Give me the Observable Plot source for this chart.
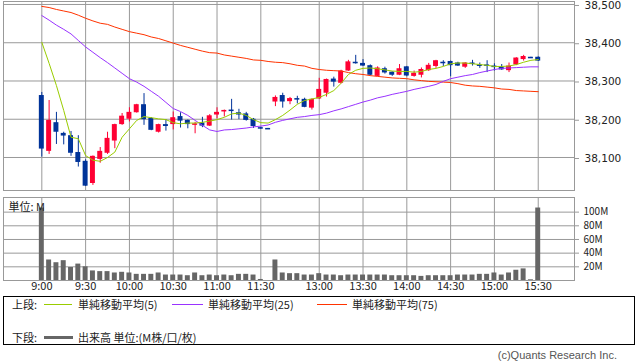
<!DOCTYPE html>
<html><head><meta charset="utf-8">
<script src="https://cdn.jsdelivr.net/npm/d3@7"></script>
<script src="https://cdn.jsdelivr.net/npm/@observablehq/plot@0.6"></script>
<style>
body{margin:0;background:#fff;}
#wrap{position:relative;width:638px;height:362px;overflow:hidden;background:#fff;font-family:"Noto Sans CJK JP","DejaVu Sans",sans-serif;color:#222;}
#topPanel,#volPanel{position:absolute;left:0;}
#topPanel{top:0;} #volPanel{top:196px;}
#legend{position:absolute;left:3px;top:296px;width:632px;height:49px;border:1px solid #000;box-sizing:border-box;font-size:11px;}
.row{position:absolute;left:0;height:14px;line-height:14px;white-space:nowrap;}
.row span{position:absolute;top:0;}
.sw{position:absolute;height:1px;top:7px;}
#copy{position:absolute;right:21px;top:349px;font-size:11px;color:#555;font-family:"Liberation Sans",sans-serif;}
</style></head><body><div id="wrap"><div id="topPanel"></div><div id="volPanel"></div>
<div id="legend">
 <div class="row" style="top:0px;">
  <span style="left:8px;">上段:</span>
  <div class="sw" style="left:40px;width:28px;background:#99cc00;"></div>
  <span style="left:74px;">単純移動平均(5)</span>
  <div class="sw" style="left:168px;width:31px;background:#9933ff;"></div>
  <span style="left:204px;">単純移動平均(25)</span>
  <div class="sw" style="left:313px;width:30px;background:#ff3300;"></div>
  <span style="left:348px;">単純移動平均(75)</span>
 </div>
 <div class="row" style="top:33px;">
  <span style="left:8px;">下段:</span>
  <div class="sw" style="left:40px;width:29px;height:3px;top:6px;background:#666;"></div>
  <span style="left:74px;">出来高 単位:(M株/口/枚)</span>
 </div>
</div>
<div id="copy">(c)Quants Research Inc.</div>
</div>
<script>
const openP  = [38262,38116,38191,38163,38157,38113,38090,38032,38095,38111,38143,38186,38200,38217,38238,38202,38166,38186,38186,38207,38197,38186,38190,38182,38211,38219,38224,38217,38214,38200,38178,38176,
 38245,38262,38246,38254,38252,38229,38253,38268,38305,38294,38326,38349,38346,38340,38312,38332,38323,38315,38337,38312,38315,38327,38338,38349,38351,38347,38336,38347,38342,38342,38339,38336,38327,38342,38356,38362,38362];
const highP  = [38270,38249,38218,38166,38168,38157,38094,38104,38126,38166,38187,38215,38230,38239,38267,38204,38187,38199,38219,38217,38198,38192,38205,38212,38230,38224,38252,38226,38218,38202,38179,38176,
 38261,38268,38257,38260,38255,38253,38307,38305,38310,38328,38354,38367,38356,38342,38337,38336,38324,38343,38338,38326,38334,38346,38354,38353,38352,38349,38348,38354,38347,38353,38345,38343,38347,38361,38367,38362,38363];
const lowP   = [38101,38108,38134,38133,38103,38075,38024,38027,38085,38108,38123,38184,38193,38216,38184,38170,38164,38169,38172,38177,38175,38162,38178,38181,38201,38206,38198,38199,38195,38176,38174,38175,
 38233,38229,38238,38240,38230,38224,38252,38258,38284,38292,38325,38344,38338,38313,38311,38318,38312,38314,38311,38310,38308,38325,38333,38338,38311,38338,38333,38339,38333,38322,38326,38328,38322,38340,38352,38361,38351];
const closeP = [38122,38197,38166,38156,38111,38087,38025,38103,38116,38150,38186,38208,38218,38238,38199,38171,38186,38181,38204,38195,38186,38188,38182,38209,38218,38223,38222,38211,38197,38181,38174,38175,
 38257,38245,38254,38250,38231,38252,38278,38304,38297,38326,38350,38345,38339,38315,38334,38321,38315,38332,38313,38320,38330,38341,38353,38347,38340,38339,38347,38344,38340,38338,38335,38329,38339,38360,38364,38361,38352];
const ma5  = [38401,38346,38288,38223,38153,38149,38105,38093,38090,38100,38114,38153,38175,38197,38207,38204,38201,38199,38191,38188,38190,38190,38192,38195,38199,38205,38214,38216,38210,38199,38191,38190,
 38199,38210,38224,38239,38249,38253,38257,38265,38275,38294,38317,38328,38333,38334,38332,38329,38326,38325,38325,38323,38325,38330,38333,38338,38345,38347,38347,38345,38343,38341,38338,38338,38339,38343,38349,38354,38356];
const ma25 = [38471,38459,38446,38435,38423,38406,38389,38375,38361,38348,38334,38320,38306,38297,38286,38273,38260,38244,38228,38220,38210,38197,38184,38172,38168,38172,38173,38175,38177,38180,38182,38185,
 38192,38197,38201,38205,38207,38210,38212,38216,38222,38227,38233,38239,38245,38250,38256,38260,38265,38269,38273,38278,38282,38286,38291,38299,38306,38310,38314,38317,38322,38326,38330,38333,38334,38335,38336,38337,38337];
const ma75 = [38495,38492,38487,38483,38479,38472,38464,38457,38451,38448,38441,38435,38429,38425,38421,38415,38411,38405,38399,38393,38388,38383,38378,38374,38373,38368,38365,38362,38359,38355,38354,38351,
 38349,38348,38345,38341,38339,38333,38330,38328,38327,38326,38322,38319,38317,38314,38312,38310,38308,38307,38306,38303,38301,38299,38298,38297,38296,38293,38289,38287,38286,38284,38282,38279,38278,38275,38274,38273,38272];
const volume = [106,30,26,29,19,24,20,14,13,13,11,12,11,9,9,9,11,8,8,8,7,11,7,8,7,8,7,9,9,8,1.5,0,
 30,11,10,10,8,8,10,8,8,7,8,8,8,8,8,8,7,7,7,7,6,7,7,7,7,8,8,8,9,9,11,8,11,15,17,1,106];
const tickIndex  = [0,6,12,18,24,30,38,44,50,56,62,68];
const tickLabels = ["9:00","9:30","10:00","10:30","11:00","11:30","13:00","13:30","14:00","14:30","15:00","15:30"];
const priceTicks = [38100,38200,38300,38400,38500];
const volTicks   = [20,40,60,80,100];

const RED = "#ff0033", BLUE = "#003399", GRID = "#999";
const xDomain = [-5.25, 72.97];
const bars = openP.map((o,i)=>({i, o, h:highP[i], l:lowP[i], c:closeP[i]}));
const upBars = bars.filter(d=>d.c>=d.o), downBars = bars.filter(d=>d.c<d.o);
const bodyLo = d => Math.min(d.o,d.c) - Math.max(0, 4 - Math.abs(d.o-d.c));
const bodyHi = d => Math.max(d.o,d.c);
const toLine = arr => arr.map((v,i)=>({i,v}));

const pricePlot = Plot.plot({
  width:638, height:191, marginLeft:3, marginRight:64, marginTop:1, marginBottom:1,
  style:{fontSize:"10.5px", fontFamily:"DejaVu Sans", color:"#222", background:"transparent", overflow:"visible"},
  x:{domain:xDomain, axis:null},
  y:{domain:[38013.7,38507.8]},
  marks:[
    Plot.ruleY(priceTicks,{stroke:GRID}),
    Plot.ruleX(tickIndex,{stroke:GRID}),
    Plot.frame({stroke:GRID}),
    Plot.ruleX(bars,{x:"i", y1:"l", y2:"h", stroke:d=>d.c>=d.o?RED:BLUE}),
    Plot.rect(upBars,{x1:d=>d.i-0.34, x2:d=>d.i+0.34, y1:bodyLo, y2:bodyHi, fill:RED}),
    Plot.rect(downBars,{x1:d=>d.i-0.34, x2:d=>d.i+0.34, y1:bodyLo, y2:bodyHi, fill:BLUE}),
    Plot.line(toLine(ma75),{x:"i", y:"v", stroke:"#ff3300", strokeWidth:1}),
    Plot.line(toLine(ma25),{x:"i", y:"v", stroke:"#9933ff", strokeWidth:1}),
    Plot.line(toLine(ma5),{x:"i", y:"v", stroke:"#99cc00", strokeWidth:1}),
    Plot.axisY(priceTicks,{anchor:"right", label:null, tickSize:4, tickPadding:6, dy:1, tickFormat:d3.format(","), stroke:GRID, fill:"#222"})
  ]
});
document.getElementById("topPanel").appendChild(pricePlot);

const volPlot = Plot.plot({
  width:638, height:104, marginLeft:3, marginRight:64, marginTop:1, marginBottom:20,
  style:{fontSize:"11px", fontFamily:"Noto Sans CJK JP", color:"#222", background:"transparent"},
  x:{domain:xDomain, label:null},
  y:{domain:[0,121.4], label:null},
  marks:[
    Plot.ruleY(volTicks,{stroke:GRID}),
    Plot.ruleX(tickIndex,{stroke:GRID}),
    Plot.frame({stroke:GRID}),
    Plot.rect(volume.map((v,i)=>({i,v})),{x1:d=>d.i-0.34, x2:d=>d.i+0.34, y1:0, y2:"v", fill:"#666"}),
    Plot.axisY(volTicks,{anchor:"right", label:null, tickSize:4, tickPadding:5, fontSize:10, tickFormat:d=>d+"M", stroke:GRID, fill:"#222"}),
    Plot.axisX(tickIndex,{label:null, tickSize:0, tickPadding:2, tickFormat:d=>tickLabels[tickIndex.indexOf(d)], fill:"#222"}),
    Plot.text(["単位: M"],{frameAnchor:"top-left", dx:5, dy:6, fill:"#222"})
  ]
});
document.getElementById("volPanel").appendChild(volPlot);
</script></body></html>
